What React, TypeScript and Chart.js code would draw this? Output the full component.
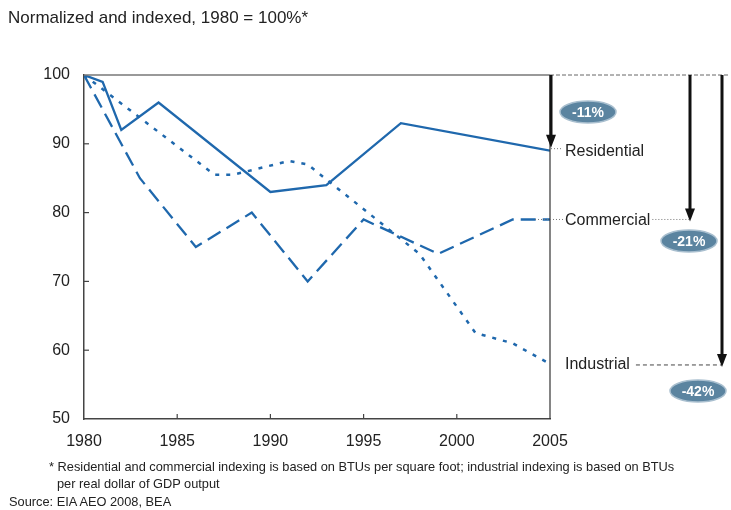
import React, { useEffect, useRef } from "react";
import { Chart, registerables } from "chart.js";

Chart.register(...registerables);

const titleText = "Normalized and indexed, 1980 = 100%*";
const footnote1 = "* Residential and commercial indexing is based on BTUs per square foot; industrial indexing is based on BTUs";
const footnote2 = "per real dollar of GDP output";
const sourceText = "Source: EIA AEO 2008, BEA";

const seriesNames = ["Residential", "Commercial", "Industrial"];

const resYears = [1980, 1981, 1982, 1984, 1990, 1993, 1997, 2005];
const resValues = [100, 99, 92, 96, 83, 84, 93, 89];

const comYears = [1980, 1983, 1986, 1989, 1992, 1995, 1999, 2003, 2005];
const comValues = [100, 85, 75, 80, 70, 79, 74, 79, 79];

const indYears = [1980, 1987, 1988, 1991, 1992, 1998, 2001, 2003, 2005];
const indValues = [100, 85.5, 85.5, 87.5, 87, 74, 62.5, 61, 58];

const xTickYears = [1980, 1985, 1990, 1995, 2000, 2005];
const yTickValues = [50, 60, 70, 80, 90, 100];

const LINE = "#1f68ad";
const FONT = '"Liberation Sans", Arial, Helvetica, sans-serif';

const toPoints = (xs: number[], ys: number[]) => xs.map((x, i) => ({ x, y: ys[i] }));
const pctChange = (vals: number[]) => Math.round(((vals[vals.length - 1] - vals[0]) / vals[0]) * 100);

const annotationPlugin = {
  id: "annot",
  afterDraw(chart: any) {
    const ctx = chart.ctx as CanvasRenderingContext2D;
    const { left, right, top, bottom } = chart.chartArea;
    const xs = chart.scales.x;
    const ys = chart.scales.y;
    const line = (x1: number, y1: number, x2: number, y2: number) => {
      ctx.beginPath();
      ctx.moveTo(x1, y1);
      ctx.lineTo(x2, y2);
      ctx.stroke();
    };
    ctx.save();
    ctx.setLineDash([]);
    ctx.strokeStyle = "#777";
    ctx.lineWidth = 1.5;
    line(left, top, right, top);
    ctx.strokeStyle = "#333";
    ctx.lineWidth = 1.2;
    line(right, top, right, bottom);
    ctx.setLineDash([4, 2]);
    ctx.strokeStyle = "#666";
    ctx.lineWidth = 1;
    line(right, top, 728, top);
    ctx.setLineDash([]);
    ctx.strokeStyle = "#444";
    ctx.lineWidth = 1.2;
    yTickValues.slice(1, -1).forEach((v) => {
      const py = ys.getPixelForValue(v);
      line(left, py, left + 5, py);
    });
    xTickYears.slice(1, -1).forEach((v) => {
      const px = xs.getPixelForValue(v);
      line(px, bottom, px, bottom - 5);
    });

    const endVals = [resValues[resValues.length - 1], comValues[comValues.length - 1], indValues[indValues.length - 1]];
    const endY = endVals.map((v) => ys.getPixelForValue(v));
    const labelX = right + 15;
    ctx.font = `16px ${FONT}`;
    ctx.textBaseline = "middle";
    ctx.textAlign = "left";
    ctx.fillStyle = "#222";
    const widths = seriesNames.map((n) => ctx.measureText(n).width);
    seriesNames.forEach((n, i) => ctx.fillText(n, labelX, endY[i] + 1));

    ctx.strokeStyle = "#777";
    ctx.lineWidth = 1;
    ctx.setLineDash([1, 2]);
    line(right + 1, endY[0] - 2, labelX - 3, endY[0] - 2);
    line(right - 15, endY[1], labelX - 2, endY[1]);
    line(labelX + widths[1] + 2, endY[1], 690, endY[1]);
    ctx.setLineDash([4, 3]);
    ctx.strokeStyle = "#444";
    line(labelX + widths[2] + 6, endY[2] + 1, 722, endY[2] + 1);
    ctx.setLineDash([]);

    const arrow = (ax: number, y0: number, y1: number) => {
      ctx.strokeStyle = "#111";
      ctx.fillStyle = "#111";
      ctx.lineWidth = 3;
      line(ax, y0, ax, y1 - 10);
      ctx.beginPath();
      ctx.moveTo(ax - 5, y1 - 13);
      ctx.lineTo(ax + 5, y1 - 13);
      ctx.lineTo(ax, y1);
      ctx.closePath();
      ctx.fill();
    };
    arrow(right + 1, top, endY[0] - 3);
    arrow(690, top, endY[1] + 2);
    arrow(722, top, endY[2] + 3);

    const badges = [
      { cx: 588, cy: 112, v: pctChange(resValues) },
      { cx: 689, cy: 241, v: pctChange(comValues) },
      { cx: 698, cy: 391, v: pctChange(indValues) },
    ];
    badges.forEach((b) => {
      ctx.beginPath();
      ctx.ellipse(b.cx, b.cy, 28, 11, 0, 0, Math.PI * 2);
      ctx.fillStyle = "#5b84a0";
      ctx.fill();
      ctx.strokeStyle = "#a9bfcf";
      ctx.lineWidth = 1.5;
      ctx.stroke();
      ctx.fillStyle = "#fff";
      ctx.font = `bold 14px ${FONT}`;
      ctx.textAlign = "center";
      ctx.textBaseline = "middle";
      ctx.fillText(`${b.v}%`, b.cx, b.cy + 1);
    });
    ctx.restore();
  },
};

export default function App() {
  const ref = useRef<HTMLCanvasElement>(null);
  useEffect(() => {
    if (!ref.current) return;
    const chart = new Chart(ref.current, {
      type: "line",
      data: {
        datasets: [
          {
            label: seriesNames[0],
            data: toPoints(resYears, resValues),
            borderColor: LINE,
            borderWidth: 2.3,
            pointRadius: 0,
            tension: 0,
          },
          {
            label: seriesNames[1],
            data: toPoints(comYears, comValues),
            borderColor: LINE,
            borderWidth: 2.3,
            borderDash: [15, 7],
            pointRadius: 0,
            tension: 0,
          },
          {
            label: seriesNames[2],
            data: toPoints(indYears, indValues),
            borderColor: LINE,
            borderWidth: 2.5,
            borderDash: [4, 7],
            pointRadius: 0,
            tension: 0,
          },
        ],
      },
      options: {
        animation: false,
        responsive: false,
        layout: { padding: { top: 75, right: 181, bottom: 0, left: 0 } },
        plugins: { legend: { display: false }, tooltip: { enabled: false } },
        scales: {
          x: {
            type: "linear",
            min: 1980,
            max: 2005,
            afterBuildTicks: (s: any) => {
              s.ticks = xTickYears.map((v) => ({ value: v }));
            },
            afterFit: (s: any) => {
              s.height = 91;
            },
            grid: { display: false, drawTicks: false },
            border: { display: true, color: "#444", width: 1.5 },
            ticks: {
              padding: 13,
              color: "#222",
              font: { family: FONT, size: 16 },
              maxRotation: 0,
              autoSkip: false,
              callback: (v: any) => String(v),
            },
          },
          y: {
            min: 50,
            max: 100,
            afterBuildTicks: (s: any) => {
              s.ticks = yTickValues.map((v) => ({ value: v }));
            },
            afterFit: (s: any) => {
              s.width = 84;
            },
            grid: { display: false, drawTicks: false },
            border: { display: true, color: "#444", width: 1.5 },
            ticks: {
              padding: 14,
              color: "#222",
              font: { family: FONT, size: 16 },
              callback: (v: any) => String(v),
            },
          },
        },
      },
      plugins: [annotationPlugin],
    });
    return () => chart.destroy();
  }, []);

  const textStyle: React.CSSProperties = {
    position: "absolute",
    fontFamily: FONT,
    color: "#222",
    whiteSpace: "nowrap",
    margin: 0,
    lineHeight: 1,
  };

  return (
    <div style={{ position: "fixed", left: 0, top: 0, width: 731, height: 510, background: "#fff", overflow: "hidden" }}>
      <canvas ref={ref} width={731} height={510} style={{ position: "absolute", left: 0, top: 0 }} />
      <div style={{ ...textStyle, left: 8, top: 9, fontSize: 17 }}>{titleText}</div>
      <div style={{ ...textStyle, left: 49, top: 461, fontSize: 12.8 }}>{footnote1}</div>
      <div style={{ ...textStyle, left: 57, top: 478, fontSize: 12.8 }}>{footnote2}</div>
      <div style={{ ...textStyle, left: 9, top: 496, fontSize: 12.8 }}>{sourceText}</div>
    </div>
  );
}
